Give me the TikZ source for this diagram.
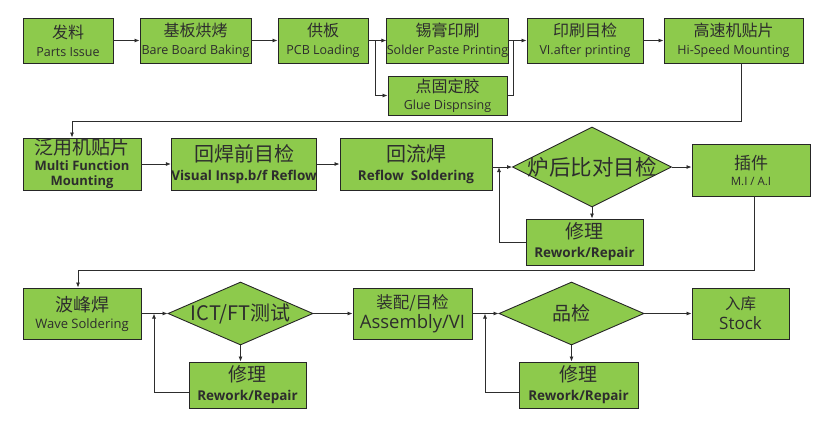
\documentclass[tikz,border=0pt]{standalone}
\usepackage{fontspec}
\setmainfont{Open Sans}
\newfontfamily\zhfont{Noto Sans CJK SC}
\usetikzlibrary{shapes.geometric,arrows.meta}
\definecolor{boxgreen}{RGB}{141,202,76}
\definecolor{linegray}{RGB}{45,45,45}
\definecolor{txt}{RGB}{45,45,45}
\newcommand\ZH[2]{{\zhfont\fontsize{#1}{#1}\selectfont #2}}
\newcommand\EN[2]{{\fontsize{#1}{#1}\selectfont #2}}
\newcommand\ENB[2]{{\fontsize{#1}{#1}\selectfont\bfseries #2}}
\begin{document}
\begin{tikzpicture}[x=1pt,y=-1pt,
  box/.style={draw=black!85, line width=0.9pt, fill=boxgreen, inner sep=0pt, align=center, text=txt},
  dia/.style={shape=diamond, draw=black!85, line width=0.9pt, fill=boxgreen, inner sep=0pt, aspect=2, text=txt},
  conn/.style={draw=linegray, line width=0.8pt},
  arr/.style={conn, -{Latex[length=5pt,width=4pt]}}]
\useasboundingbox (0,0) rectangle (832,432);
% row 1
\node[box, minimum width=90pt, minimum height=45pt, font=\fontsize{12}{18}\selectfont] (b1) at (68,40.5) {\ZH{16}{发料}\\\EN{12.5}{Parts Issue}};
\node[box, minimum width=111pt, minimum height=45pt, font=\fontsize{12}{18}\selectfont] (b2) at (195.5,40.5) {\ZH{16}{基板烘烤}\\\EN{12.5}{Bare Board Baking}};
\node[box, minimum width=90pt, minimum height=45pt, font=\fontsize{12}{18}\selectfont] (b3) at (323,40.5) {\ZH{16}{供板}\\\EN{12.5}{PCB Loading}};
\node[box, minimum width=119pt, minimum height=45pt, font=\fontsize{12}{18}\selectfont] (b4) at (447.5,40.5) {\ZH{16}{锡膏印刷}\\\EN{12.5}{Solder Paste Printing}};
\node[box, minimum width=119pt, minimum height=39pt, font=\fontsize{12}{17}\selectfont] (b5) at (447.5,95.5) {\ZH{16}{点固定胶}\\\EN{12.5}{Glue Dispnsing}};
\node[box, minimum width=116pt, minimum height=45pt, font=\fontsize{12}{18}\selectfont] (b6) at (585,40.5) {\ZH{16}{印刷目检}\\\EN{12.5}{VI.after printing}};
\node[box, minimum width=139pt, minimum height=45pt, font=\fontsize{12}{18}\selectfont] (b7) at (733.5,40.5) {\ZH{16}{高速机贴片}\\\EN{12.5}{Hi-Speed Mounting}};
% row 2
\node[box, minimum width=118pt, minimum height=52pt, font=\fontsize{12}{15.5}\selectfont] (b8) at (82,164) {\ZH{19}{泛用机贴片}\\\ENB{13}{Multi Function}\\\ENB{13}{Mounting}};
\node[box, minimum width=138pt, minimum height=52pt, font=\fontsize{12}{19}\selectfont] (b9) at (244,164) {\ZH{20}{回焊前目检}\\\ENB{13.5}{Visual Insp.b/f Reflow}};
\node[box, minimum width=152pt, minimum height=52pt, font=\fontsize{12}{19}\selectfont] (b10) at (416,164) {\ZH{20}{回流焊}\\\ENB{13.5}{Reflow\ \ Soldering}};
\node[dia, minimum width=159pt, minimum height=80pt] (d1) at (592,167) {\makebox[0pt]{\ZH{21.5}{炉后比对目检}}};
\node[box, minimum width=118pt, minimum height=52pt, font=\fontsize{12}{16}\selectfont] (b11) at (751,170) {\ZH{17}{插件}\\\EN{11.5}{M.I / A.I}};
\node[box, minimum width=117pt, minimum height=46pt, font=\fontsize{12}{19}\selectfont] (r1) at (584.5,242) {\ZH{19}{修理}\\\ENB{13.5}{Rework/Repair}};
% row 3
\node[box, minimum width=118pt, minimum height=51pt, font=\fontsize{12}{17}\selectfont] (b12) at (82,313.5) {\ZH{18}{波峰焊}\\\EN{13}{Wave Soldering}};
\node[dia, minimum width=145pt, minimum height=63pt] (d2) at (240.5,313.5) {\makebox[0pt]{\ZH{20}{ICT/FT测试}}};
\node[box, minimum width=117pt, minimum height=46pt, font=\fontsize{12}{19}\selectfont] (r2) at (247.5,385) {\ZH{19}{修理}\\\ENB{13.5}{Rework/Repair}};
\node[box, minimum width=119pt, minimum height=51pt, font=\fontsize{12}{20}\selectfont] (b13) at (412.5,313.5) {\ZH{16.5}{装配/目检}\\\EN{18.5}{Assembly/VI}};
\node[dia, minimum width=145pt, minimum height=63pt] (d3) at (571.5,313.5) {\makebox[0pt]{\ZH{19}{品检}}};
\node[box, minimum width=119pt, minimum height=46pt, font=\fontsize{12}{19}\selectfont] (r3) at (578.5,385) {\ZH{19}{修理}\\\ENB{13.5}{Rework/Repair}};
\node[box, minimum width=97pt, minimum height=51pt, font=\fontsize{12}{20}\selectfont] (b14) at (740.5,313.5) {\ZH{15.5}{入库}\\\EN{17}{Stock}};
% connectors row 1
\draw[arr] (b1) -- (b2);
\draw[arr] (b2) -- (b3);
\draw[arr] (b3.east) -- (b4.west);
\coordinate (s1) at (375,40.5);
\draw[arr] (s1) |- (b5.west);
\draw[arr] (b4.east) -- (b6.west);
\coordinate (s2) at (513,40.5);
\draw[conn] (b5.east) -| (s2);
\draw[arr] (b6) -- (b7);
\coordinate (t1) at (741,121);
\coordinate (t2) at (72,121);
\draw[arr] (b7.south -| t1) -- (t1) -- (t2) -- (t2 |- b8.north);
% row 2
\draw[arr] (b8) -- (b9);
\draw[arr] (b9) -- (b10);
\draw[arr] (b10.east |- d1.west) -- (d1.west);
\draw[arr] (d1.east) -- (d1.east -| b11.west);
\draw[arr] (d1.south) -- (d1.south |- r1.north);
\coordinate (u1) at (499,242);
\draw[arr] (r1.west |- u1) -- (u1) -- (u1 |- d1.west);
\coordinate (v1) at (754,270);
\coordinate (v2) at (78,270);
\draw[arr] (b11.south -| v1) -- (v1) -- (v2) -- (v2 |- b12.north);
% row 3
\draw[arr] (b12.east |- d2.west) -- (d2.west);
\draw[arr] (d2.south) -- (d2.south |- r2.north);
\coordinate (u2) at (154,392);
\draw[arr] (r2.west |- u2) -- (u2) -- (u2 |- d2.west);
\draw[arr] (d2.east) -- (d2.east -| b13.west);
\draw[arr] (b13.east |- d3.west) -- (d3.west);
\draw[arr] (d3.south) -- (d3.south |- r3.north);
\coordinate (u3) at (485,392);
\draw[arr] (r3.west |- u3) -- (u3) -- (u3 |- d3.west);
\draw[arr] (d3.east) -- (d3.east -| b14.west);
\end{tikzpicture}
\end{document}
